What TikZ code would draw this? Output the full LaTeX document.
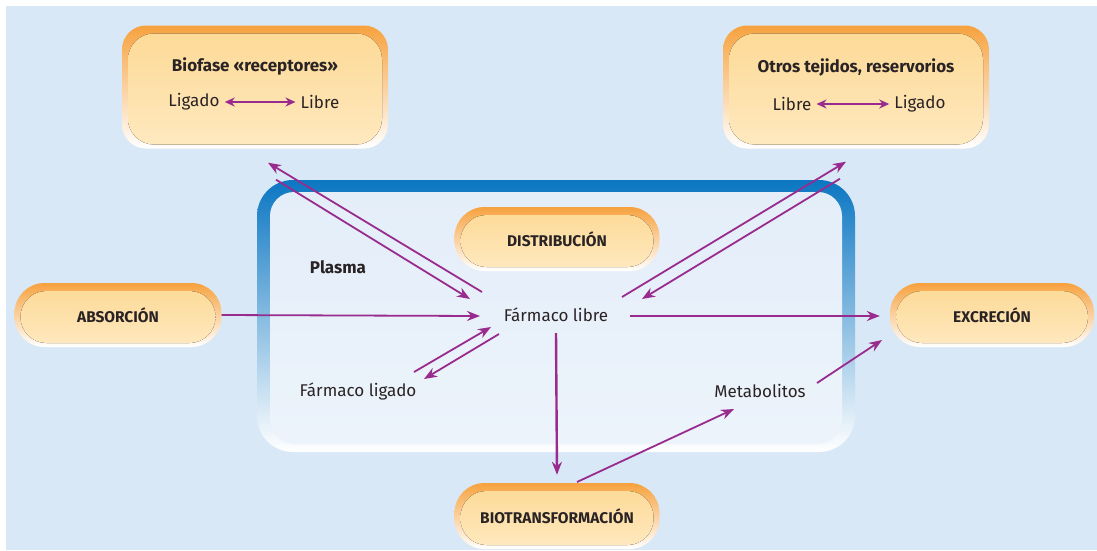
\documentclass[tikz,border=0pt]{standalone}
\usepackage{fontspec}
\setmainfont{Fira Sans}
\usetikzlibrary{arrows.meta}
\definecolor{fondo}{HTML}{D9E8F6}
\definecolor{marco}{HTML}{0B76C2}
\definecolor{plasmafondo}{HTML}{E4EEF9}
\definecolor{naranja}{HTML}{F7A23E}
\definecolor{crema}{HTML}{FDD994}
\definecolor{cremaclara}{HTML}{FEE9C0}
\definecolor{morado}{HTML}{9A2B8E}
\definecolor{tinta}{HTML}{2A2325}

\begin{document}
\begin{tikzpicture}[x=1pt,y=-1pt,>={Stealth[length=13pt,width=10pt]},
  flecha/.style={morado,line width=1.8pt},
  fase/.style={rounded corners=30pt,minimum height=64pt,inner sep=0pt,
    top color=naranja,bottom color=white,font=\bfseries\fontsize{15.5}{17}\selectfont,text=tinta,
    path picture={\fill[rounded corners=26pt,top color=crema,bottom color=cremaclara]
      ([shift={(6pt,-8pt)}]path picture bounding box.north west) rectangle
      ([shift={(-6pt,4pt)}]path picture bounding box.south east);}},
  caja/.style={fase,rounded corners=24pt,minimum width=266pt,minimum height=123pt},
  texto/.style={font=\fontsize{17}{19}\selectfont,text=tinta,inner sep=0pt}]
\useasboundingbox (0,0) rectangle (1097,550);
\fill[fondo] (6,6) rectangle (1097,550);

% plasma
\path[rounded corners=36pt,top color=marco,middle color=marco!55!white,bottom color=white] (257,180) rectangle (855,452);
\path[rounded corners=24pt,top color=plasmafondo,bottom color=plasmafondo!70!white] (270,192) rectangle (842,444);
\node[texto,font=\bfseries\fontsize{17}{19}\selectfont] (plasma) at (338,267) {Plasma};

% fases
\node[fase,minimum width=207pt] (absorcion) at (118,315) {ABSORCIÓN};
\node[fase,minimum width=204pt] (excrecion) at (992,315) {EXCRECIÓN};
\node[fase,minimum width=205pt] (distribucion) at (557,239) {DISTRIBUCIÓN};
\node[fase,minimum width=205pt,minimum height=66pt] (biotrans) at (557,516) {BIOTRANSFORMACIÓN};

% biofase
\node[caja] (biofase) at (255,87) {};
\node[texto,font=\bfseries\fontsize{17}{19}\selectfont] (biofaseT) at (255,66) {Biofase «receptores»};
\node[texto,inner sep=5pt] (ligadoB) at (194,102) {Ligado};
\node[texto,inner sep=5pt] (libreB) at (320,102) {Libre};
\draw[flecha,<->,>={Stealth[length=10pt,width=9pt]}] (ligadoB) -- (libreB);

% otros tejidos
\node[caja] (otros) at (856,87) {};
\node[texto,font=\bfseries\fontsize{17}{19}\selectfont] (otrosT) at (856,67) {Otros tejidos, reservorios};
\node[texto,inner sep=5pt] (libreO) at (792,104) {Libre};
\node[texto,inner sep=5pt] (ligadoO) at (920,104) {Ligado};
\draw[flecha,<->,>={Stealth[length=10pt,width=9pt]}] (libreO) -- (ligadoO);

% farmaco
\node[texto] (libre) at (556,315) {Fármaco libre};
\node[texto] (ligado) at (358,391) {Fármaco ligado};
\node[texto] (metab) at (760,391) {Metabolitos};

\draw[flecha,->] (absorcion.east) -- ([shift={(-76,1)}]libre.center);
\draw[flecha,->] ([shift={(74,1)}]libre.center) -- ([shift={(-10,1)}]excrecion.west);
\draw[flecha,->,line width=2.4pt] ([shift={(0,18)}]libre.center) -- ([shift={(0,-8)}]biotrans.north);

\draw[flecha,->] ([shift={(-74,-23)}]libre.center) -- ([shift={(13,14)}]biofase.south);
\draw[flecha,->] ([shift={(21,31)}]biofase.south) -- ([shift={(-86,-16)}]libre.center);
\draw[flecha,->] ([shift={(66,-18)}]libre.center) -- ([shift={(-10,13)}]otros.south);
\draw[flecha,->] ([shift={(-16,30)}]otros.south) -- ([shift={(86,-16)}]libre.center);

\draw[flecha,->] ([shift={(56,-19)}]ligado.center) -- ([shift={(-65,12)}]libre.center);
\draw[flecha,->] ([shift={(-57,19)}]libre.center) -- ([shift={(66,-12)}]ligado.center);

\draw[flecha,->] ([shift={(20,-34)}]biotrans.center) -- ([shift={(-26,18)}]metab.center);
\draw[flecha,->] ([shift={(57,-8)}]metab.center) -- ([shift={(-110,25)}]excrecion.center);
\end{tikzpicture}
\end{document}
